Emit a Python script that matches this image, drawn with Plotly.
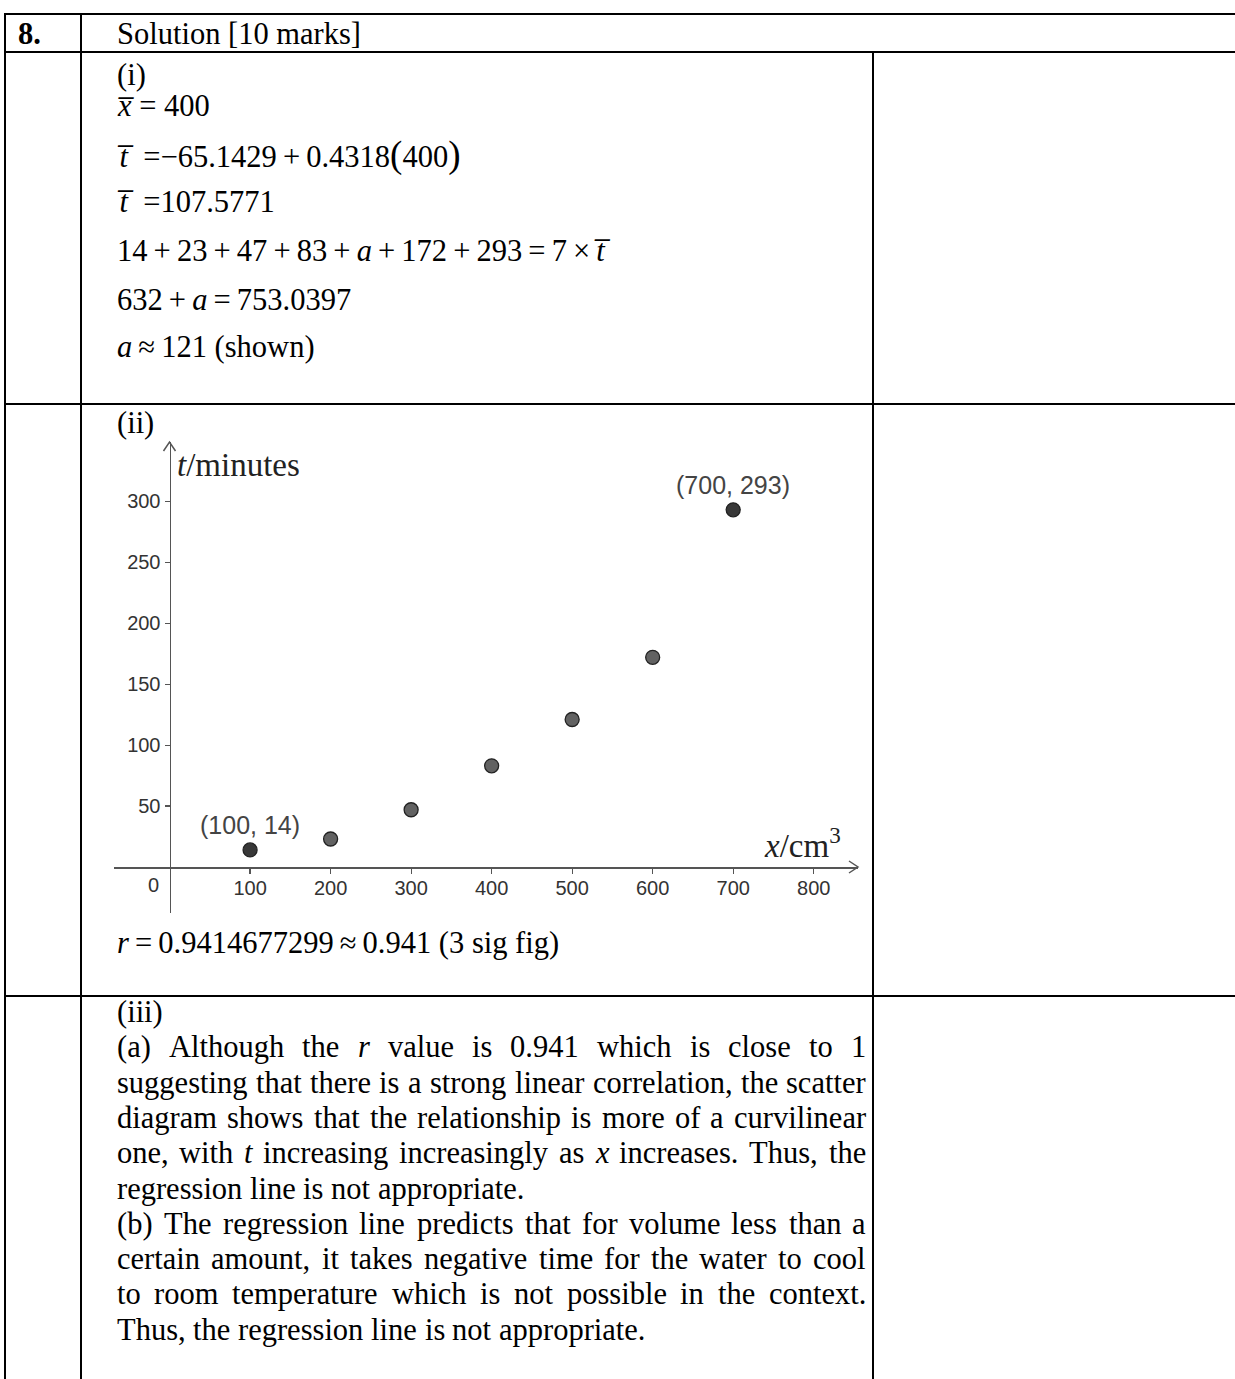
import plotly.graph_objects as go

W, H = 1235, 1379

# ---------------- data ----------------
volume_cm3 = [100, 200, 300, 400, 500, 600, 700]
time_min = [14, 23, 47, 83, 121, 172, 293]
point_fill = ["#383838", "#626262", "#626262", "#626262", "#626262", "#626262", "#383838"]
labelled_idx = [0, 6]
x_tick_vals = [100, 200, 300, 400, 500, 600, 700, 800]
y_tick_vals = [50, 100, 150, 200, 250, 300]
x_range = [-69, 855]
y_range = [-37.7, 348.6]

header_number = "8."
header_title = "Solution [10 marks]"
TS = "\u2009"  # thin space
EN = "\u2002"  # en space
OV = "\u0305"  # combining overline
BIGL = "<span style='font-size:37px'>(</span>"
BIGR = "<span style='font-size:37px'>)</span>"
part_i_lines = [
    "(i)",
    f"<i>x{OV}</i> = 400",
    f"<i>t{OV}</i>{EN}=\u221265.1429{TS}+{TS}0.4318{BIGL}400{BIGR}",
    f"<i>t{OV}</i>{EN}=107.5771",
    f"14{TS}+{TS}23{TS}+{TS}47{TS}+{TS}83{TS}+{TS}<i>a</i>{TS}+{TS}172{TS}+{TS}293{TS}={TS}7{TS}\u00d7{TS}<i>t{OV}</i>",
    f"632{TS}+{TS}<i>a</i>{TS}={TS}753.0397",
    f"<i>a</i>{TS}\u2248{TS}121 (shown)",
]
part_ii_label = "(ii)"
r_line = f"<i>r</i>{TS}={TS}0.9414677299{TS}\u2248{TS}0.941 (3 sig fig)"
part_iii_lines = [
    ("(iii)", False),
    ("(a) Although the *r* value is 0.941 which is close to 1", True),
    ("suggesting that there is a strong linear correlation, the scatter", True),
    ("diagram shows that the relationship is more of a curvilinear", True),
    ("one, with *t* increasing increasingly as *x* increases. Thus, the", True),
    ("regression line is not appropriate.", False),
    ("(b) The regression line predicts that for volume less than a", True),
    ("certain amount, it takes negative time for the water to cool", True),
    ("to room temperature which is not possible in the context.", True),
    ("Thus, the regression line is not appropriate.", False),
]

# ---------------- layout helpers ----------------
SERIF = "Liberation Serif"
SANS = "Liberation Sans"
FS = 30.5


def px(x):
    return x / W


def py(y):
    return 1 - y / H


TIMES = {
    ' ': 250, '(': 333, ')': 333, ',': 250, '.': 250, '-': 333, '0': 500, '1': 500,
    '2': 500, '3': 500, '4': 500, '5': 500, '6': 500, '7': 500, '8': 500, '9': 500,
    'A': 722, 'T': 611, 'a': 444, 'b': 500, 'c': 444, 'd': 500, 'e': 444, 'f': 333,
    'g': 500, 'h': 500, 'i': 278, 'j': 278, 'k': 500, 'l': 278, 'm': 778, 'n': 500,
    'o': 500, 'p': 500, 'q': 500, 'r': 333, 's': 389, 't': 278, 'u': 500, 'v': 500,
    'w': 722, 'x': 500, 'y': 500, 'z': 444,
}
TIMES_IT = {'r': 389, 't': 278, 'x': 444}


def word_width(w):
    if '*' in w:
        core = w.replace('*', '')
        return sum(TIMES_IT.get(c, TIMES.get(c, 500)) for c in core) * FS / 1000
    return sum(TIMES.get(c, 500) for c in w) * FS / 1000


def word_html(w):
    if '*' in w:
        parts = w.split('*')
        out = ''
        for k, p in enumerate(parts):
            out += f"<i>{p}</i>" if k % 2 == 1 else p
        return out
    return w


annotations = []


def text_ann(text, x, y, size=FS, family=SERIF, color="black", xanchor="left"):
    annotations.append(dict(
        text=text, x=px(x), y=py(y), xref="paper", yref="paper",
        xanchor=xanchor, yanchor="middle", showarrow=False,
        font=dict(family=family, size=size, color=color),
        borderpad=0, borderwidth=0,
    ))


LEFT = 117
RIGHT = 866

# header
text_ann(f"<b>{header_number}</b>", 18, 34)
text_ann(header_title, LEFT, 34)

# part (i)
part_i_y = [75, 106, 155, 202, 251, 300, 347]
for line, yy in zip(part_i_lines, part_i_y):
    text_ann(line, LEFT, yy)

# part (ii)
text_ann(part_ii_label, LEFT, 423)
text_ann(r_line, LEFT, 943)

# part (iii) with justification
y0, dy = 1012, 35.3
for k, (line, justify) in enumerate(part_iii_lines):
    yy = y0 + k * dy
    words = line.split(' ')
    widths = [word_width(w) for w in words]
    if justify and len(words) > 1:
        gap = (RIGHT - LEFT - sum(widths)) / (len(words) - 1)
    else:
        gap = 0.25 * FS
    xx = LEFT
    for w, wd in zip(words, widths):
        text_ann(word_html(w), xx, yy)
        xx += wd + gap

# ---------------- table rules ----------------
shapes = []


def hline(y, x0, x1):
    shapes.append(dict(type="line", xref="paper", yref="paper", x0=px(x0), x1=px(x1),
                       y0=py(y), y1=py(y), line=dict(color="black", width=2)))


def vline(x, y0, y1):
    shapes.append(dict(type="line", xref="paper", yref="paper", x0=px(x), x1=px(x),
                       y0=py(y0), y1=py(y1), line=dict(color="black", width=2)))


hline(14, 5, W)
hline(52, 5, W)
hline(404, 5, W)
hline(996, 5, W)
vline(5, 13, H)
vline(81, 13, H)
vline(873, 52, H)

# ---------------- chart ----------------
AX = "#555555"
X_LEFT, X_RIGHT = 114, 858      # pixel extent of the x axis
Y_TOP, Y_BOTTOM = 442, 913      # pixel extent of the y axis
X_AXIS_PX = 867                 # pixel row of t = 0
Y_AXIS_PX = 169.5               # pixel column of x = 0


def chevron(points):
    d = "M " + " L ".join(f"{px(a)},{py(b)}" for a, b in points)
    shapes.append(dict(type="path", xref="paper", yref="paper", path=d,
                       line=dict(color=AX, width=1.5)))


chevron([(X_RIGHT - 9, X_AXIS_PX - 6), (X_RIGHT, X_AXIS_PX), (X_RIGHT - 9, X_AXIS_PX + 6)])
chevron([(Y_AXIS_PX - 6, Y_TOP + 9), (Y_AXIS_PX, Y_TOP), (Y_AXIS_PX + 6, Y_TOP + 9)])

fig = go.Figure()
fig.add_trace(go.Scatter(
    x=volume_cm3, y=time_min, mode="markers",
    marker=dict(size=14, color=point_fill, line=dict(color="#222222", width=1.3)),
    hoverinfo="skip", showlegend=False,
))

for i in labelled_idx:
    annotations.append(dict(
        text=f"({volume_cm3[i]}, {time_min[i]})", x=volume_cm3[i], y=time_min[i],
        xref="x", yref="y", yshift=25, showarrow=False, xanchor="center", yanchor="middle",
        font=dict(family=SANS, size=25, color="#444444"),
    ))

# origin label and axis titles
text_ann("0", 153, 885, size=20, family=SANS, color="#333333", xanchor="center")
text_ann("<i>t</i>/minutes", 177, 465, size=33, family=SERIF, color="#222222")
text_ann("<i>x</i>/cm<sup>3</sup>", 764, 843, size=33, family=SERIF, color="#222222")

fig.update_layout(
    width=W, height=H, margin=dict(l=0, r=0, t=0, b=0, pad=0),
    paper_bgcolor="white", plot_bgcolor="white",
    xaxis=dict(domain=[px(X_LEFT), px(X_RIGHT)], range=x_range, anchor="free",
               position=py(X_AXIS_PX),
               showline=True, linecolor=AX, linewidth=1.5, ticks="outside", ticklen=5,
               tickcolor=AX, tickwidth=1.2, tickvals=x_tick_vals, ticklabelstandoff=-3,
               tickfont=dict(family=SANS, size=20, color="#333333"),
               showgrid=False, zeroline=False, fixedrange=True),
    yaxis=dict(domain=[py(Y_BOTTOM), py(Y_TOP)], range=y_range, anchor="free",
               position=px(Y_AXIS_PX),
               showline=True, linecolor=AX, linewidth=1.5, ticks="outside", ticklen=5,
               tickcolor=AX, tickwidth=1.2, tickvals=y_tick_vals,
               tickfont=dict(family=SANS, size=20, color="#333333"),
               showgrid=False, zeroline=False, fixedrange=True),
    shapes=shapes, annotations=annotations, showlegend=False,
)

fig.write_html("out.html", config={"displayModeBar": False, "staticPlot": True},
               post_script="document.body.style.margin='0';document.body.style.overflow='hidden';")
